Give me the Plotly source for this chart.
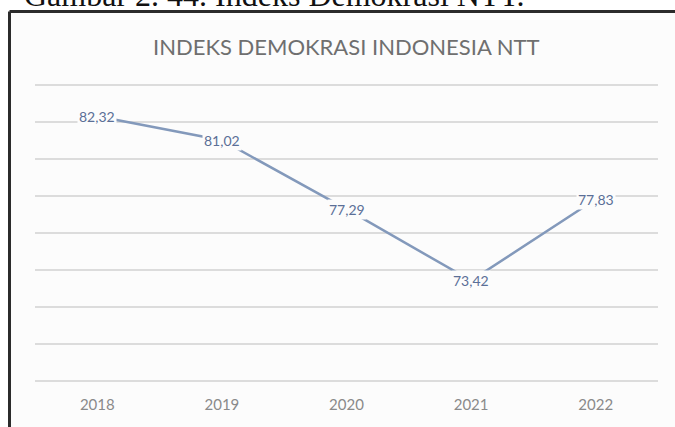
import plotly.graph_objects as go

years = ["2018", "2019", "2020", "2021", "2022"]
values = [82.32, 81.02, 77.29, 73.42, 77.83]
title_text = "INDEKS DEMOKRASI INDONESIA NTT"
caption_text = "Gambar 2. 44. Indeks Demokrasi NTT."

W, H = 675, 427
L, R, T, B = 35, 17, 76, 37
pw, ph = W - L - R, H - T - B

def px(x):
    return (x - L) / pw

def py(y):
    return (H - B - y) / ph

bg = "#fcfcfc"
line_col = "#8399bb"
lab_col = "#5b6f97"

fig = go.Figure()
fig.add_trace(go.Scatter(x=years, y=values, mode="lines",
                         line=dict(color=line_col, width=2.5),
                         hoverinfo="skip", showlegend=False))

annotations = []
for i, v in enumerate(values):
    annotations.append(dict(x=i, y=v, xref="x", yref="y",
                            text=f"{v:.2f}".replace(".", ","),
                            showarrow=False, bgcolor=bg, borderpad=1,
                            xanchor="center", yanchor="middle",
                            font=dict(family="Lato", size=14, color=lab_col)))
annotations.append(dict(x=px(346), y=py(47), xref="paper", yref="paper",
                        text=title_text, showarrow=False,
                        xanchor="center", yanchor="middle",
                        font=dict(family="Lato", size=22, color="#6f6f6f")))
annotations.append(dict(x=px(22), y=py(15), xref="paper", yref="paper",
                        text=caption_text, showarrow=False,
                        xanchor="left", yanchor="bottom",
                        font=dict(family="Liberation Serif", size=32, color="#111111")))

shapes = [
    dict(type="rect", xref="paper", yref="paper", layer="below",
         x0=px(10), x1=px(690), y0=py(440), y1=py(12),
         fillcolor=bg, line=dict(width=0)),
    dict(type="line", xref="paper", yref="paper",
         x0=px(9.5), x1=px(690), y0=py(11.5), y1=py(11.5),
         line=dict(color="#2b2b2b", width=3)),
    dict(type="line", xref="paper", yref="paper",
         x0=px(9.5), x1=px(9.5), y0=py(11.5), y1=py(440),
         line=dict(color="#2b2b2b", width=3)),
]

fig.update_layout(
    width=W, height=H,
    margin=dict(l=L, r=R, t=T, b=B),
    paper_bgcolor="white", plot_bgcolor=bg,
    annotations=annotations, shapes=shapes,
    xaxis=dict(type="category", range=[-0.5, 4.5], showgrid=False,
               showline=False, ticks="", ticklabelstandoff=4,
               tickfont=dict(family="Lato", size=15, color="#8a8a8a"),
               fixedrange=True),
    yaxis=dict(range=[67.5, 84.5], dtick=2, tick0=68, showticklabels=False,
               showgrid=True, gridcolor="#dcdcdc", gridwidth=1.5,
               zeroline=False, showline=False, fixedrange=True),
)

fig.write_html("out.html", config={"displayModeBar": False},
               post_script="document.body.style.margin='0';document.body.style.overflow='hidden';")
